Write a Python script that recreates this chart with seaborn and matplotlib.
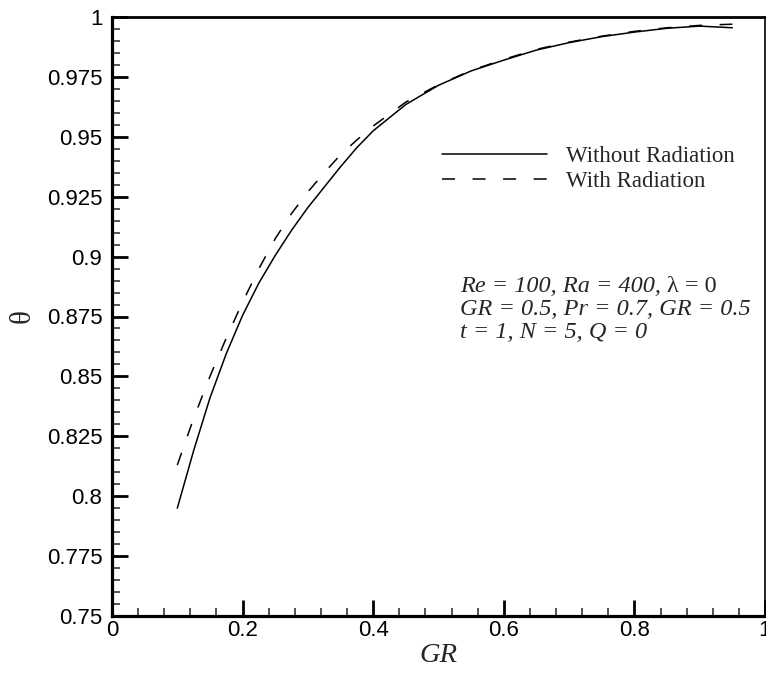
import matplotlib
matplotlib.use("Agg")
import matplotlib.pyplot as plt
import seaborn as sns
import pandas as pd
from matplotlib.ticker import MultipleLocator, FixedLocator

# ---- data ----
gr = [0.100, 0.125, 0.150, 0.175, 0.200, 0.225, 0.250, 0.275, 0.300, 0.325,
      0.350, 0.375, 0.400, 0.450, 0.500, 0.550, 0.600, 0.650, 0.700, 0.750,
      0.800, 0.850, 0.900, 0.950]
theta_without = [0.795, 0.819, 0.841, 0.8595, 0.8755, 0.889, 0.9005, 0.911, 0.9205, 0.929,
                 0.9375, 0.9455, 0.9525, 0.9635, 0.9715, 0.9775, 0.982, 0.9862, 0.9893, 0.9918,
                 0.9937, 0.9953, 0.9962, 0.9955]
theta_with = [0.813, 0.8325, 0.850, 0.866, 0.881, 0.895, 0.9075, 0.918, 0.927, 0.935,
              0.9425, 0.9487, 0.9545, 0.9645, 0.9717, 0.9777, 0.9823, 0.9865, 0.9895, 0.992,
              0.994, 0.9955, 0.9965, 0.997]
series_labels = ["Without Radiation", "With Radiation"]
x_ticks = [0, 0.2, 0.4, 0.6, 0.8, 1]
x_tick_labels = ["0", "0.2", "0.4", "0.6", "0.8", "1"]
y_ticks = [0.75, 0.775, 0.8, 0.825, 0.85, 0.875, 0.9, 0.925, 0.95, 0.975, 1.0]
y_tick_labels = ["0.75", "0.775", "0.8", "0.825", "0.85", "0.875", "0.9",
                 "0.925", "0.95", "0.975", "1"]
annot_lines = ["Re = 100, Ra = 400,", "GR = 0.5, Pr = 0.7, GR = 0.5", "t = 1, N = 5, Q = 0"]
annot_lambda = "λ = 0"
x_label = "GR"
y_label = "θ"

sns.set_theme(style="white")
plt.rcParams['font.family'] = ['Liberation Sans', 'DejaVu Sans']

fig = plt.figure(figsize=(7.66, 6.75), dpi=100)
ax = fig.add_axes([112/766, 1-616/675, (765-112)/766, (616-17)/675])

df = pd.DataFrame({"GR": gr, "without": theta_without, "with": theta_with})
sns.lineplot(data=df, x="GR", y="without", ax=ax, color="black", lw=1.1,
             label=series_labels[0])
sns.lineplot(data=df, x="GR", y="with", ax=ax, color="black", lw=1.1,
             linestyle=(0, (8.5, 11.5)), label=series_labels[1])

ax.set_xlim(0, 1)
ax.set_ylim(0.75, 1.0)
ax.xaxis.set_major_locator(FixedLocator(x_ticks))
ax.set_xticklabels(x_tick_labels)
ax.yaxis.set_major_locator(FixedLocator(y_ticks))
ax.set_yticklabels(y_tick_labels)
ax.xaxis.set_minor_locator(MultipleLocator(0.04))
ax.yaxis.set_minor_locator(MultipleLocator(0.005))

ax.tick_params(axis="both", which="major", direction="in", length=11.5, width=2.0,
               labelsize=16, colors="black", bottom=True, left=True, top=False, right=False)
ax.tick_params(axis="both", which="minor", direction="in", length=6, width=1.1,
               bottom=True, left=True, top=False, right=False)
ax.tick_params(axis="y", which="major", pad=7)
ax.tick_params(axis="x", which="major", pad=3)

for s in ["left", "bottom"]:
    ax.spines[s].set_linewidth(2.3)
    ax.spines[s].set_color("black")
ax.spines["top"].set_linewidth(2.0)
ax.spines["top"].set_color("black")
ax.spines["right"].set_linewidth(1.2)
ax.spines["right"].set_color("black")

ax.set_xlabel(x_label, fontsize=20.5, fontstyle="italic",
              family=["Liberation Serif", "DejaVu Serif"], labelpad=1)
ax.set_ylabel(y_label, fontsize=21, family=["Liberation Serif", "DejaVu Serif"], labelpad=8)

leg = ax.legend(loc="center left", bbox_to_anchor=((442-112)/653, (616-169)/599),
                frameon=False, handlelength=4.6, handletextpad=0.8, labelspacing=0.2,
                borderpad=0, borderaxespad=0,
                prop={"family": "Liberation Serif", "size": 16.5})

serif = ["Liberation Serif", "DejaVu Serif"]
fs_annot = 17.5
x0 = (460-112)/653
baselines = [(616-292)/599, (616-315)/599, (616-338)/599]
t1 = ax.text(x0, baselines[0], annot_lines[0], transform=ax.transAxes, fontsize=fs_annot,
             fontstyle="italic", family=serif, va="baseline", ha="left")
ax.annotate(annot_lambda, xy=(1, 0), xycoords=t1, xytext=(4, 0), textcoords="offset points",
            fontsize=fs_annot, family=serif, va="bottom", ha="left")
for line, yb in zip(annot_lines[1:], baselines[1:]):
    ax.text(x0, yb, line, transform=ax.transAxes, fontsize=fs_annot, fontstyle="italic",
            family=serif, va="baseline", ha="left")

fig.savefig("out.png", dpi=100)
